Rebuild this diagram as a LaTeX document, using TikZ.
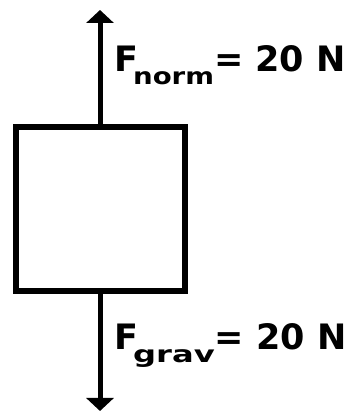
\documentclass[tikz,border=0pt]{standalone}
\usepackage{fontspec}
\setmainfont{DejaVu Sans}
\usetikzlibrary{arrows.meta}
\tikzset{
  force/.style={line width=5pt, -{Triangle[length=13pt,width=27pt]}},
  body/.style={draw, line width=6pt, minimum width=169pt, minimum height=164pt, inner sep=0pt, outer sep=0pt},
  flabel/.style={anchor=base west, inner sep=0pt, font=\bfseries\fontsize{35}{40}\selectfont}
}
\newcommand{\fsub}[2]{\hspace{-5pt}\raisebox{-13pt}{\scalebox{#2}[1]{\fontsize{23}{26}\selectfont #1}}}
\begin{document}
\begin{tikzpicture}[x=1pt,y=1pt]
\useasboundingbox (0,0) rectangle (352,412);
\node[body] (box) at (100.5,203) {};
\coordinate (top) at (100,402);
\coordinate (bot) at (100,1);
\draw[force] (box.north -| top) -- (top);
\draw[force] (box.south -| bot) -- (bot);
\node[flabel] (fn) at (114,340) {F\fsub{norm}{1.2}= 20 N};
\node[flabel] (fg) at (114,62) {F\fsub{grav}{1.4}= 20 N};
\end{tikzpicture}
\end{document}
